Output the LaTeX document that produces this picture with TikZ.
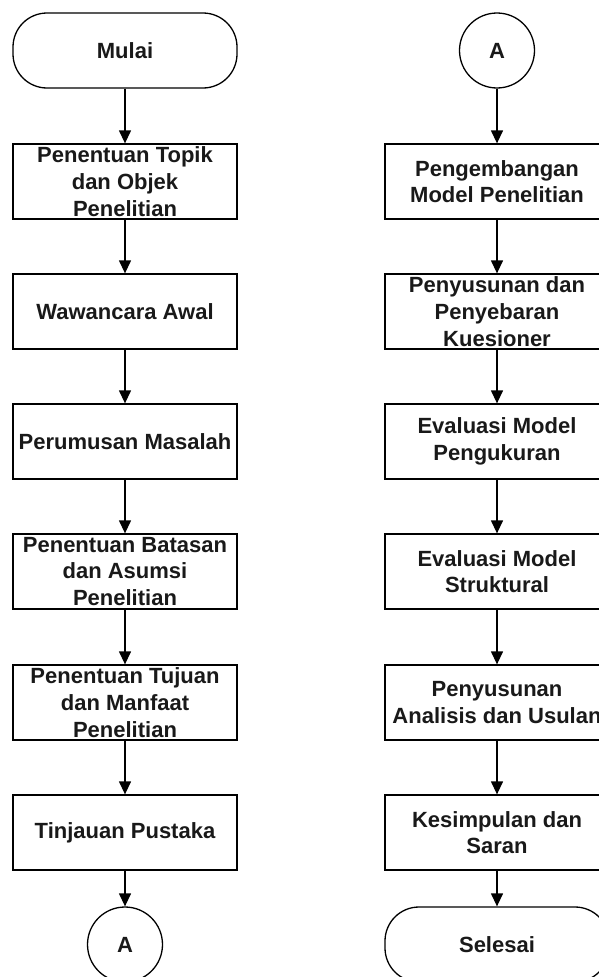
\documentclass[tikz,border=0pt]{standalone}
\usepackage{fontspec}
\setmainfont{Liberation Sans}
\usetikzlibrary{arrows.meta}
\begin{document}
\begin{tikzpicture}[x=1pt,y=-1pt,
  every node/.style={font=\bfseries\fontsize{22}{26.7}\selectfont, text=black!90, line width=1.3pt},
  procbox/.style={draw, rectangle, minimum width=224pt, minimum height=75pt, inner sep=0pt, align=center},
  termbox/.style={draw, rectangle, rounded corners=34pt, minimum width=224pt, minimum height=75pt, inner sep=0pt, align=center},
  connbox/.style={draw, circle, minimum size=75pt, inner sep=0pt},
  flow/.style={line width=1.3pt, -{Triangle[width=12pt,length=13pt]}}
]
\clip (0,0) rectangle (599,977);
% left column
\node[termbox] (mulai) at (125,50.5) {Mulai};
\node[procbox] (l1) at (125,181.5) {Penentuan Topik\\dan Objek\\Penelitian};
\node[procbox] (l2) at (125,311.5) {Wawancara Awal};
\node[procbox] (l3) at (125,441.5) {Perumusan Masalah};
\node[procbox] (l4) at (125,571.5) {Penentuan Batasan\\dan Asumsi\\Penelitian};
\node[procbox] (l5) at (125,702.5) {Penentuan Tujuan\\dan Manfaat\\Penelitian};
\node[procbox] (l6) at (125,832.5) {Tinjauan Pustaka};
\node[connbox] (ca) at (125,944.5) {A};
% right column
\node[connbox] (cb) at (497,50.5) {A};
\node[procbox] (r1) at (497,181.5) {Pengembangan\\Model Penelitian};
\node[procbox] (r2) at (497,311.5) {Penyusunan dan\\Penyebaran\\Kuesioner};
\node[procbox] (r3) at (497,441.5) {Evaluasi Model\\Pengukuran};
\node[procbox] (r4) at (497,571.5) {Evaluasi Model\\Struktural};
\node[procbox] (r5) at (497,702.5) {Penyusunan\\Analisis dan Usulan};
\node[procbox] (r6) at (497,832.5) {Kesimpulan dan\\Saran};
\node[termbox] (selesai) at (497,944.5) {Selesai};
% connectors
\draw[flow] (mulai) -- (l1);
\draw[flow] (l1) -- (l2);
\draw[flow] (l2) -- (l3);
\draw[flow] (l3) -- (l4);
\draw[flow] (l4) -- (l5);
\draw[flow] (l5) -- (l6);
\draw[flow] (l6) -- (ca);
\draw[flow] (cb) -- (r1);
\draw[flow] (r1) -- (r2);
\draw[flow] (r2) -- (r3);
\draw[flow] (r3) -- (r4);
\draw[flow] (r4) -- (r5);
\draw[flow] (r5) -- (r6);
\draw[flow] (r6) -- (selesai);
\end{tikzpicture}
\end{document}
